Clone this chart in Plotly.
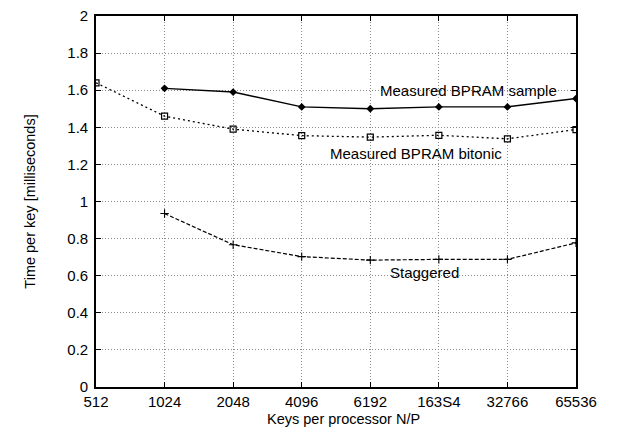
import plotly.graph_objects as go

# Keys per processor (N/P) and the tick labels printed under each position
keys = [512, 1024, 2048, 4096, 8192, 16384, 32768, 65536]
tick_labels = ["512", "1024", "2048", "4096", "6192", "163S4", "32766", "65536"]

# Time per key in milliseconds
sample_keys = [1024, 2048, 4096, 8192, 16384, 32768, 65536]
sample_ms = [1.61, 1.59, 1.51, 1.50, 1.51, 1.51, 1.555]

bitonic_keys = [512, 1024, 2048, 4096, 8192, 16384, 32768, 65536]
bitonic_ms = [1.64, 1.46, 1.39, 1.355, 1.347, 1.357, 1.338, 1.388]

staggered_keys = [1024, 2048, 4096, 8192, 16384, 32768, 65536]
staggered_ms = [0.935, 0.767, 0.703, 0.684, 0.688, 0.688, 0.777]

y_ticks = [0, 0.2, 0.4, 0.6, 0.8, 1, 1.2, 1.4, 1.6, 1.8, 2]

FONT = "Liberation Sans, Arial, sans-serif"

fig = go.Figure()

fig.add_trace(go.Scatter(
    x=sample_keys, y=sample_ms, mode="lines+markers",
    line=dict(color="black", width=1.4),
    marker=dict(symbol="diamond", size=6, color="black"),
    showlegend=False,
))
fig.add_trace(go.Scatter(
    x=bitonic_keys, y=bitonic_ms, mode="lines+markers",
    line=dict(color="black", width=1.3, dash="2px,3px"),
    marker=dict(symbol="square-open", size=6, color="black", line=dict(width=1.2)),
    showlegend=False,
))
fig.add_trace(go.Scatter(
    x=staggered_keys, y=staggered_ms, mode="lines+markers",
    line=dict(color="black", width=1.2, dash="4px,2px"),
    marker=dict(symbol="cross-thin", size=6, color="black", line=dict(width=1.1, color="black")),
    showlegend=False,
))

# Curve labels
label_font = dict(family=FONT, size=15, color="black")
fig.add_annotation(x=0.777, xref="x domain", y=1.6, yref="y", text="Measured BPRAM sample",
                   showarrow=False, xanchor="center", yanchor="middle", font=label_font)
fig.add_annotation(x=0.667, xref="x domain", y=1.258, yref="y", text="Measured BPRAM bitonic",
                   showarrow=False, xanchor="center", yanchor="middle", font=label_font)
fig.add_annotation(x=0.685, xref="x domain", y=0.616, yref="y", text="Staggered",
                   showarrow=False, xanchor="center", yanchor="middle", font=label_font)

# x-axis title, set tight under the tick labels
fig.add_annotation(x=0.515, xref="x domain", y=-0.086, yref="y domain", text="Keys per processor N/P",
                   showarrow=False, xanchor="center", yanchor="middle",
                   font=dict(family=FONT, size=14.5, color="black"))

axis_common = dict(
    showline=True, linecolor="black", linewidth=1.6, mirror="allticks",
    ticks="inside", ticklen=5, tickcolor="black", tickwidth=1,
    showgrid=True, gridcolor="#8a8a8a", gridwidth=1, griddash="1px,2px",
    zeroline=False,
    tickfont=dict(family=FONT, size=15, color="black"),
)

fig.update_xaxes(
    type="log", range=[2.70927, 4.81648],
    tickvals=keys, ticktext=tick_labels, ticklabelstandoff=0,
    **axis_common,
)
fig.update_yaxes(
    range=[0, 2], tickvals=y_ticks, ticklabelstandoff=3,
    title=dict(text="Time per key [milliseconds]", font=dict(family=FONT, size=14.5, color="black"), standoff=28),
    **axis_common,
)

fig.update_layout(
    width=618, height=431,
    margin=dict(l=96, r=42, t=7, b=44),
    paper_bgcolor="white", plot_bgcolor="white",
    font=dict(family=FONT, color="black"),
)

fig.write_html("out.html")
